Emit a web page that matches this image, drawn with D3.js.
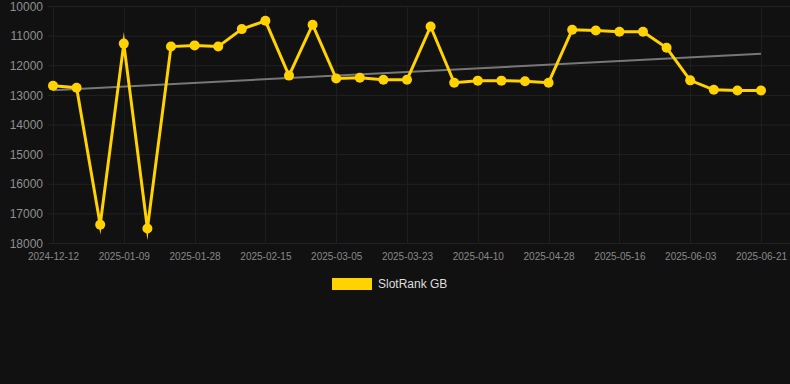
<!DOCTYPE html>
<html>
<head>
<meta charset="utf-8">
<script src="https://cdn.jsdelivr.net/npm/d3@7"></script>
<style>
  html, body { margin: 0; padding: 0; background: #111111; }
  svg { display: block; font-family: "Liberation Sans", Arial, sans-serif; }
</style>
</head>
<body>
<div id="chart"></div>
<script>
const dates = [
  "2024-12-12", "2024-12-21", "2025-01-01", "2025-01-09", "2025-01-15", "2025-01-22",
  "2025-01-28", "2025-02-03", "2025-02-09", "2025-02-15", "2025-02-21", "2025-02-27",
  "2025-03-05", "2025-03-11", "2025-03-17", "2025-03-23", "2025-03-29", "2025-04-04",
  "2025-04-10", "2025-04-16", "2025-04-22", "2025-04-28", "2025-05-04", "2025-05-10",
  "2025-05-16", "2025-05-22", "2025-05-28", "2025-06-03", "2025-06-09", "2025-06-15",
  "2025-06-21",
];
const ranks = [
  12690, 12760, 17380, 11270, 17510, 11370, 11330, 11370, 10780, 10500, 12350, 10630,
  12450, 12420, 12490, 12490, 10690, 12590, 12520, 12520, 12540, 12590, 10800, 10830,
  10870, 10870, 11410, 12510, 12830, 12850, 12850,
];
const yTicks = [10000, 11000, 12000, 13000, 14000, 15000, 16000, 17000, 18000];
const seriesName = "SlotRank GB";

const width = 790;
const height = 384;
const plot = { left: 48, right: 790, top: 6, bottom: 243 };
const lineColor = "#FFD200";

const svg = d3.select("#chart").append("svg")
  .attr("width", width)
  .attr("height", height)
  .attr("viewBox", [0, 0, width, height]);

svg.append("rect").attr("width", width).attr("height", height).attr("fill", "#111111");

const x = d3.scalePoint().domain(dates).range([53, 761]);
const y = d3.scaleLinear().domain([10000, 18000]).range([plot.top, plot.bottom]);

const labelDates = dates.filter((d, i) => i % 3 === 0);

// grid
svg.append("g")
  .selectAll("line")
  .data(yTicks)
  .join("line")
  .attr("x1", plot.left)
  .attr("x2", plot.right)
  .attr("y1", (d) => y(d) + 0.5)
  .attr("y2", (d) => y(d) + 0.5)
  .attr("stroke", "#222222");

svg.append("g")
  .selectAll("line")
  .data(labelDates)
  .join("line")
  .attr("x1", (d) => Math.round(x(d)) + 0.5)
  .attr("x2", (d) => Math.round(x(d)) + 0.5)
  .attr("y1", plot.top)
  .attr("y2", plot.bottom)
  .attr("stroke", "#1e1e1e");

// y axis
const yAxis = (g) =>
  g.attr("transform", `translate(43,0)`)
    .call(d3.axisLeft(y).tickValues(yTicks).tickSize(0).tickPadding(0).tickFormat(d3.format("d")))
    .call((g) => g.select(".domain").remove())
    .call((g) => g.selectAll("text")
      .attr("fill", "#8f8f8f")
      .style("font-size", "12px")
      .attr("dy", "0.35em"));

// x axis
const xAxis = (g) =>
  g.attr("transform", `translate(0,${plot.bottom})`)
    .call(d3.axisBottom(x).tickValues(labelDates).tickSize(0).tickPadding(10))
    .call((g) => g.select(".domain").remove())
    .call((g) => g.selectAll("text")
      .attr("fill", "#888888")
      .style("font-size", "10px"));

svg.append("g").call(yAxis);
svg.append("g").call(xAxis);

// trend line (least squares over index)
const n = ranks.length;
const idx = d3.range(n);
const mx = d3.mean(idx);
const my = d3.mean(ranks);
const slope = d3.sum(idx, (i) => (i - mx) * (ranks[i] - my)) / d3.sum(idx, (i) => (i - mx) ** 2);
const icpt = my - slope * mx;

svg.append("line")
  .attr("x1", x(dates[0]))
  .attr("y1", y(icpt))
  .attr("x2", x(dates[n - 1]))
  .attr("y2", y(icpt + slope * (n - 1)))
  .attr("stroke", "#777777")
  .attr("stroke-width", 2);

const points = dates.map((d, i) => ({ date: d, value: ranks[i] }));

const line = d3.line()
  .x((d) => x(d.date))
  .y((d) => y(d.value));

svg.append("path")
  .datum(points)
  .attr("fill", "none")
  .attr("stroke", lineColor)
  .attr("stroke-width", 3)
  .attr("stroke-linejoin", "miter")
  .attr("stroke-miterlimit", 10)
  .attr("d", line);

svg.append("g")
  .selectAll("circle")
  .data(points)
  .join("circle")
  .attr("cx", (d) => x(d.date))
  .attr("cy", (d) => y(d.value))
  .attr("r", 5)
  .attr("fill", lineColor);

// legend
const legend = svg.append("g").attr("transform", "translate(332,278)");
legend.append("rect")
  .attr("width", 40)
  .attr("height", 12)
  .attr("fill", lineColor);
legend.append("text")
  .attr("x", 46)
  .attr("y", 6)
  .attr("dy", "0.35em")
  .attr("fill", "#dddddd")
  .style("font-size", "12px")
  .text(seriesName);
</script>
</body>
</html>
